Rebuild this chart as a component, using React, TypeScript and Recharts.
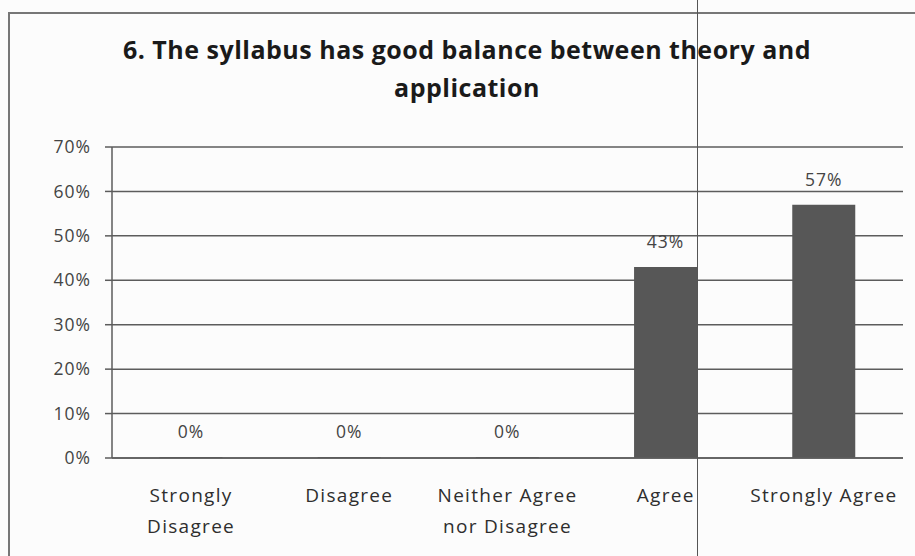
import React from "react";
import { BarChart, Bar, XAxis, YAxis, CartesianGrid, LabelList } from "recharts";

const categories = [
  "Strongly Disagree",
  "Disagree",
  "Neither Agree nor Disagree",
  "Agree",
  "Strongly Agree",
];
const categoryLines = [
  ["Strongly", "Disagree"],
  ["Disagree"],
  ["Neither Agree", "nor Disagree"],
  ["Agree"],
  ["Strongly Agree"],
];
const percentages = [0, 0, 0, 43, 57];
const yTicks = [0, 10, 20, 30, 40, 50, 60, 70];
const boundaryTicks = [0, 1, 2, 3, 4, 5];

const data = categories.map((name, i) => ({ name, value: percentages[i] }));

const FONT = "'Open Sans', Lato, sans-serif";
const GRID = "#5c5c5c";

function CategoryTick(props: any) {
  const { x, y, index } = props;
  const lines = categoryLines[index] || [];
  return (
    <text
      x={x}
      y={y}
      textAnchor="middle"
      fill="#2e2e2e"
      fontSize={19}
      letterSpacing={1.3}
      fontFamily={FONT}
    >
      {lines.map((l, i) => (
        <tspan key={i} x={x} dy={i === 0 ? 42 : 31}>
          {l}
        </tspan>
      ))}
    </text>
  );
}

export default function App() {
  return (
    <div
      style={{
        position: "absolute",
        left: 0,
        top: 0,
        width: 915,
        height: 556,
        background: "#fcfcfc",
        overflow: "hidden",
      }}
    >
      {/* chart frame, cut by the edges of the scan */}
      <div
        style={{
          position: "absolute",
          left: 8,
          top: 12,
          width: 920,
          height: 560,
          borderLeft: "2px solid #777",
          borderTop: "2px solid #777",
        }}
      />
      <div
        style={{
          position: "absolute",
          left: 0,
          top: 30,
          width: 934,
          textAlign: "center",
          fontFamily: FONT,
          fontWeight: 700,
          fontSize: 25,
          lineHeight: "38px",
          letterSpacing: 0.5,
          color: "#1a1a1a",
        }}
      >
        6. The syllabus has good balance between theory and
        <br />
        application
      </div>
      <div style={{ position: "absolute", left: 0, top: 0 }}>
        <BarChart
          width={915}
          height={556}
          data={data}
          margin={{ top: 147, right: 12, bottom: 0, left: 0 }}
          barCategoryGap="30%"
        >
          <CartesianGrid vertical={false} stroke={GRID} strokeWidth={1.5} />
          <XAxis
            xAxisId="bounds"
            type="number"
            dataKey={() => 0}
            domain={[0, 5]}
            ticks={boundaryTicks}
            height={0}
            tick={false}
            tickSize={7}
            axisLine={false}
            tickLine={{ stroke: GRID, strokeWidth: 1.5 }}
          />
          <XAxis
            dataKey="name"
            height={98}
            interval={0}
            tickLine={false}
            tickSize={0}
            axisLine={{ stroke: GRID, strokeWidth: 1.5 }}
            tick={<CategoryTick />}
          />
          <YAxis
            width={112}
            domain={[0, 70]}
            ticks={yTicks}
            tickFormatter={(v) => `${v}%`}
            tickSize={7}
            tickMargin={14}
            axisLine={{ stroke: GRID, strokeWidth: 1.5 }}
            tickLine={{ stroke: GRID, strokeWidth: 1.5 }}
            tick={{ fill: "#444", fontSize: 17.5, fontFamily: FONT, letterSpacing: 1 }}
          />
          <Bar dataKey="value" fill="#575757" minPointSize={1} isAnimationActive={false}>
            <LabelList
              dataKey="value"
              position="top"
              offset={19}
              formatter={(v: any) => `${v}%`}
              style={{ fill: "#444", fontSize: 17.5, fontFamily: FONT, letterSpacing: 1 }}
            />
          </Bar>
        </BarChart>
      </div>
      {/* scanner fold line */}
      <div
        style={{
          position: "absolute",
          left: 697,
          top: 0,
          width: 1,
          height: 556,
          background: "#555",
        }}
      />
    </div>
  );
}
